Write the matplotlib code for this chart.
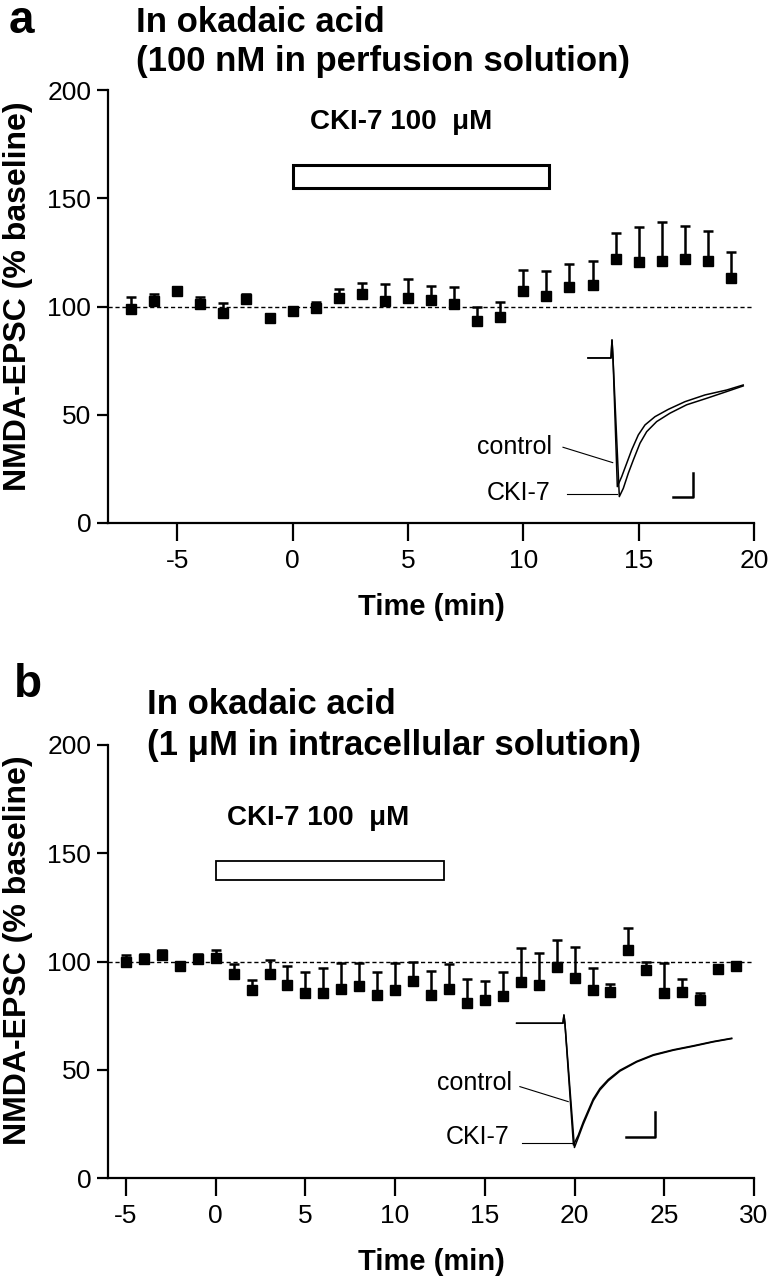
import numpy as np
import matplotlib
matplotlib.use('Agg')
import matplotlib.pyplot as plt
from matplotlib.patches import Rectangle

plt.rcParams['font.family'] = ['Liberation Sans', 'DejaVu Sans']
plt.rcParams['axes.unicode_minus'] = False

## panel a : okadaic acid in perfusion solution
time_a = np.arange(-7, 20)
mean_a = [99, 102.5, 107, 101, 97, 103.5, 94.5, 98, 99.5, 104, 106, 102.5, 104, 103,
          101, 93.5, 95, 107, 105, 109, 110, 122, 120.5, 121, 122, 121, 113]
sem_a = [5.5, 3.5, 2, 3.5, 4.8, 2.5, 0, 0, 2.5, 4, 5, 8, 8.5, 6.5,
         8, 6.5, 7, 10, 11.5, 10.5, 11, 12, 16, 18, 15, 14, 12]

## panel b : okadaic acid in intracellular solution
time_b = np.arange(-5, 30)
mean_b = [99.6, 101, 103, 98, 101, 101.5, 94, 87, 94, 89, 85.5, 85.5, 87.5, 88.5, 84.5,
          87, 91, 84.5, 87.5, 81, 82, 84, 90.5, 89, 97.5, 92.5, 87, 86, 105.5, 96,
          85.5, 86, 82, 96.5, 98]
sem_b = [3.5, 2.5, 2.3, 0, 2.3, 4, 5, 4.3, 6.5, 9, 9.5, 11.5, 11.7, 11, 10.5,
         12.5, 9, 11, 11.2, 11, 9, 11, 15.6, 14.8, 12.6, 14.3, 10, 3.8, 10, 3.6,
         13.7, 6, 3.3, 0, 0]

## drug application (min)
drug_a = (0, 11.1)
drug_b = (0, 12.7)

## example traces (ms, pA)
tr_a_t_ctl = [-60, -2.5, 0, 2.5, 13.3, 24.2, 36.7, 49.2, 65.8, 82.5, 107.5, 140.8,
              182.5, 232.5, 286.7, 328]
tr_a_i_ctl = [0, 0, 15, 0, -107.2, -98.9, -87.8, -76.6, -64.1, -55.8, -48.9, -42.8,
              -36.4, -30.8, -26.7, -22.5]
tr_a_t_cki = [-60, -2.5, 0, 2.5, 18.3, 28.3, 40.8, 53.3, 70, 86.7, 111.7, 145,
              186.7, 236.7, 286.7, 328]
tr_a_i_cki = [0, 0, 15, 0, -115.5, -108.6, -96, -85, -71, -61.4, -53, -46,
              -39, -33.6, -28, -23.3]

tr_b_t_ctl = [-81.5, -1.7, 0, 1.7, 16.4, 24.7, 33.3, 41.9, 50.5, 62, 76.4, 96.5,
              125.3, 154, 188.5, 223, 257.4, 289]
tr_b_i_ctl = [0, 0, 6.6, 0, -97.4, -89.6, -79, -69.8, -60.6, -52.2, -45, -37.6,
              -30.5, -25.2, -21.2, -18, -14.6, -12]
tr_b_t_cki = [-81.5, -1.7, 0, 1.7, 18.1, 24.7, 33.3, 41.9, 50.5, 62, 76.4, 96.5,
              125.3, 154, 188.5, 223, 257.4, 289]
tr_b_i_cki = [0, 0, 6.6, 0, -99.4, -91.5, -80.8, -71.4, -62, -53.4, -46, -38.3,
              -31, -25.7, -21.6, -18.4, -14.9, -12.3]

fig = plt.figure(figsize=(7.7, 12.8), dpi=100)
W, H = 770.0, 1280.0


def panel(rect, t, m, s, xlim, xticks, drug, drug_lw, lab_x, bar_y):
    ax = fig.add_axes(rect)
    ax.axhline(100, color='k', ls=(0, (3, 2)), lw=1.0, zorder=1)
    ax.errorbar(t, m, yerr=[np.zeros(len(s)), s], fmt='s', color='k', ms=7.5,
                capsize=3.5, elinewidth=1.8, capthick=1.8, zorder=3)
    ax.add_patch(Rectangle((drug[0], bar_y[0]), drug[1] - drug[0], bar_y[1] - bar_y[0],
                           fill=False, ec='k', lw=drug_lw, zorder=2))
    ax.text(lab_x, bar_y[1] + 14, 'CKI-7 100  \u03bcM', ha='center', va='bottom',
            fontsize=20, fontweight='bold')
    ax.set_xlim(*xlim)
    ax.set_ylim(0, 200)
    ax.set_xticks(xticks)
    ax.set_yticks([0, 50, 100, 150, 200])
    for sp in ['top', 'right']:
        ax.spines[sp].set_visible(False)
    for sp in ['left', 'bottom']:
        ax.spines[sp].set_linewidth(1.6)
    ax.tick_params(axis='y', length=8, width=1.6, labelsize=19, pad=4)
    ax.tick_params(axis='x', length=13, width=1.6, labelsize=19, pad=6)
    ax.set_xlabel('Time (min)', fontsize=21, fontweight='bold', labelpad=14)
    return ax


axA = panel([108 / W, 1 - 523 / H, 646 / W, 433 / H], time_a, mean_a, sem_a,
            (-8, 20), [-5, 0, 5, 10, 15, 20], drug_a, 2.2, 4.7, (154.7, 165.4))
axB = panel([108 / W, 1 - 1178 / H, 646 / W, 433 / H], time_b, mean_b, sem_b,
            (-6, 30), [-5, 0, 5, 10, 15, 20, 25, 30], drug_b, 1.3, 5.7, (137.6, 146.4))

fig.text(18 / W, 1 - 296 / H, 'NMDA-EPSC (% baseline)', rotation=90, ha='center',
         va='center', fontsize=23, fontweight='bold')
fig.text(18 / W, 1 - 950 / H, 'NMDA-EPSC (% baseline)', rotation=90, ha='center',
         va='center', fontsize=23, fontweight='bold')

fig.text(9 / W, 1 - 33 / H, 'a', fontsize=33, fontweight='bold', va='baseline')
fig.text(136 / W, 1 - 22 / H, 'In okadaic acid', fontsize=25, fontweight='bold', va='center')
fig.text(136 / W, 1 - 62 / H, '(100 nM in perfusion solution)', fontsize=25,
         fontweight='bold', va='center')
fig.text(14 / W, 1 - 697 / H, 'b', fontsize=33, fontweight='bold', va='baseline')
fig.text(147 / W, 1 - 705 / H, 'In okadaic acid', fontsize=25, fontweight='bold', va='center')
fig.text(147 / W, 1 - 745 / H, '(1 \u03bcM in intracellular solution)', fontsize=25,
         fontweight='bold', va='center')


def inset(rect, xlim, ylim, tc, ic, tk, ik, lab_ctl, lab_cki, ptr_ctl, ptr_cki, bar):
    ax = fig.add_axes(rect)
    ax.set_xlim(*xlim)
    ax.set_ylim(*ylim)
    ax.axis('off')
    ax.plot(tc, ic, color='k', lw=1.1)
    ax.plot(tk, ik, color='k', lw=1.1)
    ax.text(lab_ctl[0], lab_ctl[1], 'control', ha='right', va='center', fontsize=18)
    ax.text(lab_cki[0], lab_cki[1], 'CKI-7', ha='right', va='center', fontsize=18)
    ax.plot(ptr_ctl[0], ptr_ctl[1], color='k', lw=0.8)
    ax.plot(ptr_cki[0], ptr_cki[1], color='k', lw=0.8)
    # scale bar 50 ms / 20 pA
    x0, y0 = bar
    ax.plot([x0, x0 + 50, x0 + 50], [y0, y0, y0 + 20], color='k', lw=1.8)


inset([420 / W, 1 - 505 / H, 345 / W, 175 / H], (-480, 382.5), (-122.5, 23.3),
      tr_a_t_ctl, tr_a_i_ctl, tr_a_t_cki, tr_a_i_cki,
      (-150, -74), (-155, -112.7),
      ([-122.5, 1.75], [-74.4, -87.2]), ([-112, 12], [-113.6, -113.6]),
      (152.5, -115.8))

inset([400 / W, 1 - 1160 / H, 365 / W, 155 / H], (-282.5, 346.5), (-109.4, 14.6),
      tr_b_t_ctl, tr_b_i_ctl, tr_b_t_cki, tr_b_i_cki,
      (-90, -48), (-93, -90.7),
      ([-75.9, 7.4], [-50.7, -62.7]), ([-72.9, 16], [-96, -96]),
      (107, -90.7))

fig.savefig('out.png', dpi=100)
